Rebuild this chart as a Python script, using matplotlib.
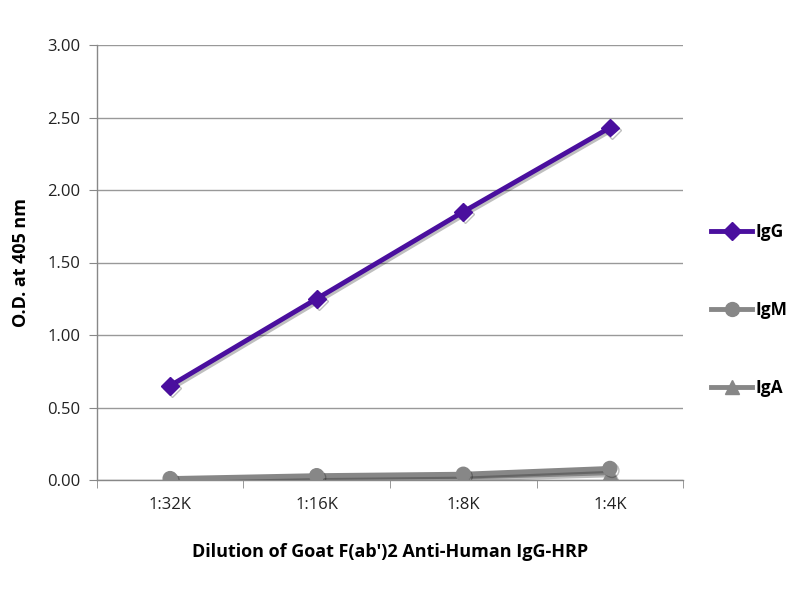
import matplotlib
matplotlib.use("Agg")
import matplotlib.pyplot as plt
from matplotlib.lines import Line2D
import matplotlib.patheffects as pe

categories = ["1:32K", "1:16K", "1:8K", "1:4K"]
igg = [0.65, 1.25, 1.85, 2.43]
igm = [0.01, 0.03, 0.04, 0.08]
iga = [0.00, 0.02, 0.02, 0.05]
yticks = [0.0, 0.5, 1.0, 1.5, 2.0, 2.5, 3.0]

plt.rcParams['font.family'] = ['Open Sans', 'DejaVu Sans']

fig = plt.figure(figsize=(8, 6), dpi=100)
ax = fig.add_axes([0.121, 0.2, 0.733, 0.725])

x = list(range(len(categories)))
purple = "#4a0f9e"
gray = "#878787"
shadow = [pe.SimpleLineShadow(offset=(1.5, -1.5), alpha=0.25), pe.Normal()]

ax.plot(x, iga, color=gray, lw=3.5, marker='^', ms=10, zorder=3, path_effects=shadow)
ax.plot(x, igm, color=gray, lw=3.5, marker='o', ms=10, zorder=4, path_effects=shadow)
ax.plot(x, igg, color=purple, lw=3.5, marker='D', ms=9, zorder=5, path_effects=shadow)

ax.set_xlim(-0.5, len(categories) - 0.5)
ax.set_ylim(0, 3.0)
ax.set_yticks(yticks)
ax.set_yticklabels([f"{v:.2f}" for v in yticks], fontsize=12, color="#222222")
ax.set_xticks(x)
ax.set_xticklabels(categories, fontsize=12, color="#222222")
ax.set_xticks([i - 0.5 for i in range(len(categories) + 1)], minor=True)
ax.tick_params(axis='x', which='major', length=0, pad=12)
ax.tick_params(axis='x', which='minor', length=6, color="#888888", direction='out')
ax.tick_params(axis='y', length=6, color="#888888", direction='out', pad=6)

ax.grid(axis='y', color="#999999", lw=1)
ax.set_axisbelow(True)
for s in ['top', 'right']:
    ax.spines[s].set_visible(False)
for s in ['left', 'bottom']:
    ax.spines[s].set_color("#888888")
    ax.spines[s].set_linewidth(1)

ax.set_ylabel("O.D. at 405 nm", fontsize=13, fontweight='bold', labelpad=12)
ax.set_xlabel("Dilution of Goat F(ab')2 Anti-Human IgG-HRP", fontsize=13, fontweight='bold', labelpad=22)

handles = [
    Line2D([0], [0], color=purple, lw=3.5, marker='D', ms=9),
    Line2D([0], [0], color=gray, lw=3.5, marker='o', ms=10),
    Line2D([0], [0], color=gray, lw=3.5, marker='^', ms=10),
]
leg = fig.legend(handles, ["IgG", "IgM", "IgA"], loc='center left',
                 bbox_to_anchor=(0.884, 0.483), frameon=False,
                 prop={'weight': 'bold', 'size': 12.5}, labelspacing=3.45,
                 handlelength=2.4, handletextpad=0.2, borderpad=0.2,
                 borderaxespad=0.0)

fig.savefig("out.png", dpi=100)
